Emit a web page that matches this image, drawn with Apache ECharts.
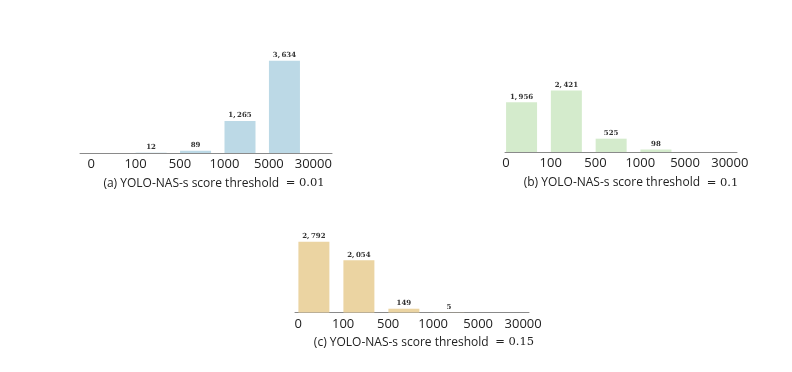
<!DOCTYPE html>
<html>
<head>
<meta charset="utf-8">
<script src="https://cdn.jsdelivr.net/npm/echarts@6/dist/echarts.min.js"></script>
<style>
html,body{margin:0;padding:0;background:#fff;}
#chart{width:792px;height:372px;}
</style>
</head>
<body>
<div id="chart"></div>
<script>
// bin edges (tick labels)
const tickLabels = ['0', '100', '500', '1000', '5000', '30000'];
// counts per bin, one array per subplot
const countsA = [0, 12, 89, 1265, 3634];
const countsB = [1956, 2421, 525, 98, 0];
const countsC = [2792, 2054, 149, 5, 0];
// captions
const captionsText = ['(a) YOLO-NAS-s score threshold', '(b) YOLO-NAS-s score threshold', '(c) YOLO-NAS-s score threshold'];
const captionsValue = ['= 0.01', '= 0.1', '= 0.15'];

const colors = ['#bcd9e6', '#d4ebcc', '#ebd4a2'];
const seriesData = [countsA, countsB, countsC];

const grids = [
  {left: 80, width: 252, top: 53, height: 100, min: -0.25, max: 5.42},
  {left: 505, width: 232, top: 52, height: 100, min: -0.02, max: 5.16},
  {left: 295, width: 234, top: 212.5, height: 100, min: -0.07, max: 5.13}
];
const capPos = [[214, 183.5], [631, 183], [424, 342.5]];
const yMax = 3940;

function fmt(v) {
  const s = String(v);
  if (s.length > 3) return s.slice(0, s.length - 3) + ',\u2009' + s.slice(s.length - 3);
  return s;
}

const tickPositions = tickLabels.map((t, i) => i);

const option = {
  animation: false,
  backgroundColor: '#fff',
  grid: grids.map(g => ({left: g.left, width: g.width, top: g.top, height: g.height})),
  xAxis: grids.map((g, k) => ({
    type: 'value', gridIndex: k, min: g.min, max: g.max,
    axisLine: {show: true, lineStyle: {color: '#8a8a8a', width: 1}},
    axisTick: {show: false},
    splitLine: {show: false},
    axisLabel: {
      show: true, margin: 5, fontFamily: 'Open Sans', fontSize: 13, color: '#222',
      customValues: tickPositions,
      formatter: function (v) {
        const i = Math.round(v);
        return (i >= 0 && i < tickLabels.length) ? tickLabels[i] : '';
      }
    }
  })),
  yAxis: grids.map((g, k) => ({
    type: 'value', gridIndex: k, min: 0, max: yMax, show: false
  })),
  series: seriesData.map((arr, k) => ({
    type: 'bar', xAxisIndex: k, yAxisIndex: k,
    barWidth: 31,
    itemStyle: {color: colors[k]},
    label: {
      show: true, position: 'top', distance: 2,
      fontFamily: 'DejaVu Serif', fontSize: 7, fontWeight: 'bold', color: '#333',
      formatter: p => p.value[1] > 0 ? fmt(p.value[1]) : ''
    },
    data: arr.map((v, i) => [i + 0.35, v])
  })),
  graphic: capPos.map((p, k) => ({
    type: 'text', x: p[0], y: p[1],
    style: {
      text: '{s|' + captionsText[k] + '}  {m|' + captionsValue[k] + '}',
      align: 'center', verticalAlign: 'middle',
      rich: {
        s: {fontFamily: 'Open Sans', fontSize: 12, fill: '#222'},
        m: {fontFamily: 'DejaVu Serif', fontSize: 11.5, fill: '#222'}
      }
    }
  }))
};

const chart = echarts.init(document.getElementById('chart'), null, {renderer: 'canvas'});
chart.setOption(option);
</script>
</body>
</html>
